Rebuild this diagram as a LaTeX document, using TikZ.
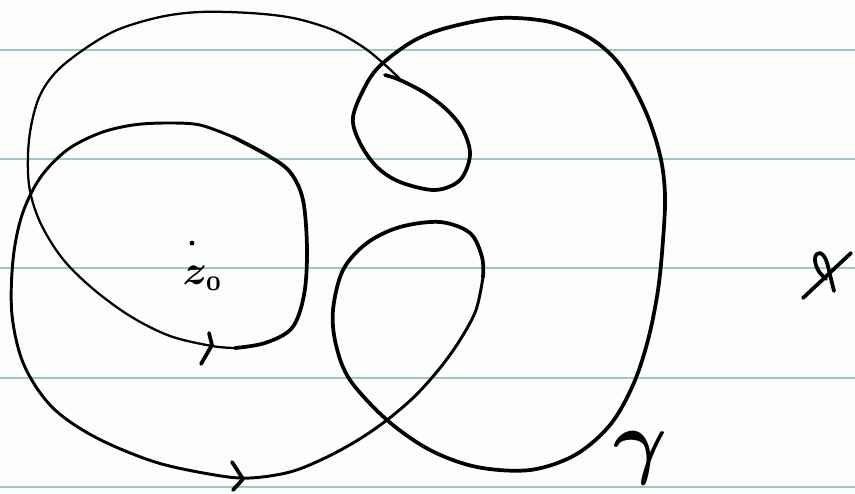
\documentclass[tikz,border=0pt]{standalone}
\usepackage{graphicx}
\usetikzlibrary{calc}
\definecolor{ruled}{RGB}{160,196,201}
\definecolor{paper}{RGB}{252,253,253}
\tikzset{
  ruleline/.style={ruled, line width=2.1pt},
  thinpen/.style={black, line width=1.7pt, line cap=round, line join=round},
  midpen/.style={black, line width=2.2pt, line cap=round, line join=round},
  thickpen/.style={black, line width=2.8pt, line cap=round, line join=round},
  handlabel/.style={inner sep=0pt, text=black}
}
\begin{document}
\begin{tikzpicture}[x=0.75pt, y=-0.75pt]
\fill[paper] (0,0) rectangle (855,493);
\useasboundingbox (0,0) rectangle (855,493);
% ruled paper
\foreach \yy in {50,159,268,378,487}
  \draw[ruleline] (0,\yy) -- (855,\yy);

% left thin loop (top arc to bottom of z0 loop)
\draw[thinpen] plot[smooth, tension=0.55] coordinates {
 (399,78) (383,63) (363,47) (333,30) (293,18) (250,13) (200,12) (160,17)
 (117,30) (83,50) (55,73) (38,100) (29,140) (29,185) (40,222) (62,258)
 (92,288) (130,316) (170,336) (212,346) (235,348)};

% right side of z0 loop and its top
\draw[thickpen] plot[smooth, tension=0.55] coordinates {
 (235,348) (265,343) (292,328) (304,295) (307,250) (303,200) (290,172)
 (267,155) (233,137)};
% top of z0 loop, down into the bottom loop
\draw[midpen] plot[smooth, tension=0.55] coordinates {
 (233,137) (200,125) (167,123) (133,125) (100,133) (67,150) (40,178)
 (22,215) (13,260) (12,315) (24,365) (52,407) (95,437) (155,462)
 (215,475) (250,478) (290,472) (325,458) (358,440) (387,420) (415,396)
 (440,368) (460,340) (476,310) (483,277)};

% inner right loop, big right loop, small top loop
\draw[thickpen] plot[smooth, tension=0.55] coordinates {
 (483,277) (482,257) (470,233) (440,222) (400,227) (367,243) (343,270)
 (333,310) (336,345) (350,380) (387,420) (430,450) (477,467) (530,470)
 (575,455) (610,425) (633,385) (648,340) (658,290) (663,240) (665,195)
 (660,155) (645,110) (620,65) (590,38) (550,22) (500,18) (450,27)
 (415,40) (383,63) (367,83) (353,117) (360,143) (377,167) (400,182)
 (435,190) (460,180) (470,155) (463,130) (447,110) (425,93) (400,80)
 (385,75)};

% direction chevrons
\coordinate (c1) at (212,345);
\coordinate (c2) at (243,479);
\draw[thickpen] (209,333) -- (c1) -- (201,364);
\draw[thickpen] (232,462) -- (c2) -- (233,490);

% point z0
\fill[black] (192,243) circle (2.4);
\node[handlabel] (z0) at (203,278) {\scalebox{3.1}{\boldmath$z_{\scriptscriptstyle 0}$}};

% gamma label
\node[handlabel] (gam) at (641,458) {\scalebox{6.2}{\boldmath$\gamma$}};

% mark at the right
\draw[thickpen] (803,298) -- (851,253);
\draw[thickpen] plot[smooth, tension=0.7] coordinates {
 (834,291) (830,275) (826,260) (820,253) (815,258) (818,270) (826,279)};
\end{tikzpicture}
\end{document}
